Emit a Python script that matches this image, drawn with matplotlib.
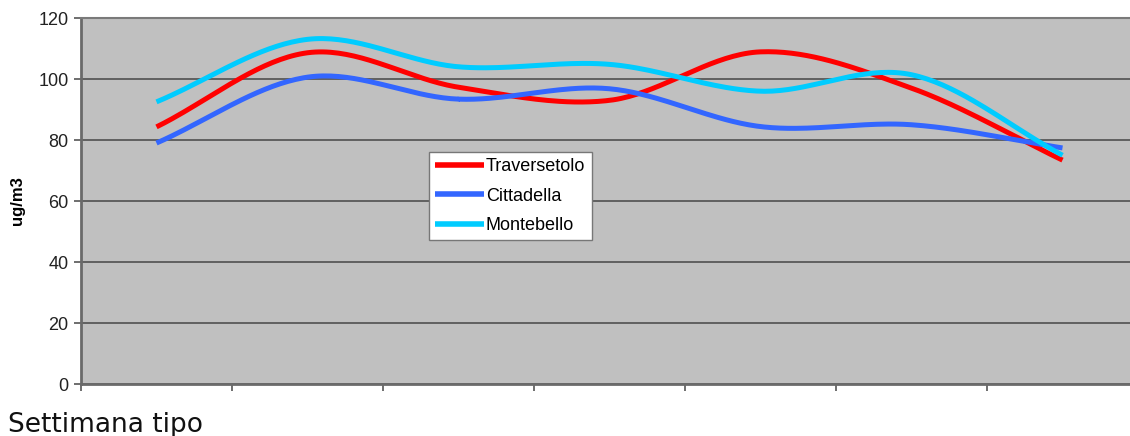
import numpy as np
import matplotlib
matplotlib.use("Agg")
import matplotlib.pyplot as plt

# Weekly typical profile, one value per day
days = [1, 2, 3, 4, 5, 6, 7]
traversetolo = [84.3, 108.6, 97.3, 93.0, 108.9, 97.0, 73.4]
cittadella = [79.0, 100.6, 93.4, 96.8, 84.4, 85.0, 77.4]
montebello = [92.5, 113.0, 104.0, 104.8, 96.0, 101.4, 75.0]
series_names = ["Traversetolo", "Cittadella", "Montebello"]
series_colors = ["#FF0000", "#3366FF", "#00CCFF"]
y_ticks = [0, 20, 40, 60, 80, 100, 120]


def smooth(x, y, n=40):
    """Catmull-Rom spline through the points (smoothed line)."""
    x = np.asarray(x, float)
    y = np.asarray(y, float)
    px = np.concatenate([[2 * x[0] - x[1]], x, [2 * x[-1] - x[-2]]])
    py = np.concatenate([[2 * y[0] - y[1]], y, [2 * y[-1] - y[-2]]])
    xs, ys = [], []
    t = np.linspace(0, 1, n)
    for i in range(1, len(px) - 2):
        for p, out in ((px, xs), (py, ys)):
            p0, p1, p2, p3 = p[i - 1], p[i], p[i + 1], p[i + 2]
            out.append(0.5 * ((2 * p1) + (-p0 + p2) * t
                              + (2 * p0 - 5 * p1 + 4 * p2 - p3) * t ** 2
                              + (-p0 + 3 * p1 - 3 * p2 + p3) * t ** 3))
    return np.concatenate(xs), np.concatenate(ys)


fig = plt.figure(figsize=(11.3, 4.36), dpi=100)
W, H = 1130, 436
left, right, top, bottom = 81, 1138, 18, 384
ax = fig.add_axes([left / W, 1 - bottom / H, (right - left) / W, (bottom - top) / H])
ax.set_facecolor("#C0C0C0")

for vals, name, col in zip([traversetolo, cittadella, montebello], series_names, series_colors):
    sx, sy = smooth(days, vals)
    ax.plot(sx, sy, color=col, lw=3.6, solid_capstyle="butt", label=name, zorder=3)

ax.set_xlim(0.5, 7.5)
ax.set_ylim(0, 120)
ax.set_yticks(y_ticks)
ax.set_xticks(np.arange(0.5, 8.0, 1.0))
ax.set_xticklabels([])
ax.yaxis.grid(True, color="#585858", lw=1.3)
ax.set_axisbelow(True)

for s in ("left", "bottom"):
    ax.spines[s].set_color("#6a6a6a")
    ax.spines[s].set_linewidth(2.0)
ax.spines["top"].set_color("#7a7a7a")
ax.spines["top"].set_linewidth(1.5)
ax.spines["right"].set_visible(False)

ax.tick_params(axis="y", direction="out", length=5, width=1.2, color="#555555",
               labelsize=13, pad=4, labelcolor="#222222")
ax.tick_params(axis="x", direction="out", length=5, width=1.2, color="#555555")
for lab in ax.get_yticklabels():
    lab.set_family("Liberation Sans")

fig.text(18 / W, 1 - 201 / H, "ug/m3", fontsize=12, fontweight="bold",
         family="Liberation Sans", rotation=90, ha="center", va="center")

leg = ax.legend(loc="upper left", bbox_to_anchor=(429 / W, 1 - 152 / H),
                bbox_transform=fig.transFigure, frameon=True, fancybox=False,
                prop={"family": "Liberation Sans", "size": 13},
                handlelength=2.7, handletextpad=0.1, borderpad=0.35,
                labelspacing=0.68, borderaxespad=0)
for h in leg.get_lines():
    h.set_linewidth(4)
leg.get_frame().set_edgecolor("#777777")
leg.get_frame().set_linewidth(1.0)
leg.get_frame().set_facecolor("white")
leg.get_frame().set_alpha(1)

fig.text(8 / W, 1 - 432 / H, "Settimana tipo", fontsize=19, family="DejaVu Sans",
         ha="left", va="baseline", color="#111111")

fig.savefig("out.png", dpi=100)
